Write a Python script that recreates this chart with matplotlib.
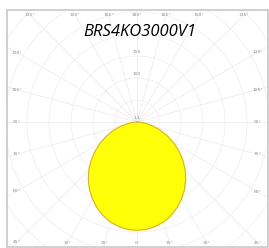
import numpy as np
import matplotlib
matplotlib.use("Agg")
import matplotlib.pyplot as plt
from matplotlib.patches import Rectangle, Circle

# Luminous intensity (cd/klm) vs. gamma angle (deg)
gamma_deg = [0, 5, 10, 15, 20, 25, 30, 35, 40, 45, 50, 55, 60, 65, 70, 75, 80, 85, 90]
intensity = [246, 245, 241, 235, 226, 215, 202, 188, 172, 155, 136, 117, 97, 77, 58, 40, 23, 9, 0]
ring_values = [50, 100, 150, 200, 250, 300, 350, 400, 450, 500, 550, 600, 650]
ring_labels = ["", "100", "150", "", "", "", "", "", "", "", "", "", ""]
title = "BRS4KO3000V1"

fig = plt.figure(figsize=(2.69, 2.48), dpi=100)
ax = fig.add_axes([0, 0, 1, 1])
s = 0.44  # px per cd
ox, oy = 137, 122
ax.set_xlim(-ox / s, (269 - ox) / s)
ax.set_ylim(-(248 - oy) / s, oy / s)
ax.axis("off")

# frame
x0, x1 = (7 - ox) / s, (268 - ox) / s
y0, y1 = -(247 - oy) / s, (oy - 10) / s
frame = Rectangle((x0, y0), x1 - x0, y1 - y0, fill=False, ec="#c4c4c4", lw=1.1, zorder=1)
ax.add_patch(frame)

# rings
for r in ring_values:
    c = Circle((0, 0), r, fill=False, ec="#f0f0f0", lw=0.6, zorder=0.5)
    ax.add_patch(c)
    c.set_clip_path(frame)

# radial lines every 15 deg
L = 1000
for a in range(0, 360, 15):
    t = np.radians(a)
    ln, = ax.plot([0, L * np.sin(t)], [0, -L * np.cos(t)], color="#ededed", lw=0.6, zorder=0.5)
    ln.set_clip_path(frame)

# angle labels where radial lines meet the frame
ix0, ix1 = x0 + 10 / s, x1 - 10 / s
iy0, iy1 = y0 + 4 / s, y1 - 5 / s
for a in range(-180, 180, 15):
    t = np.radians(a)
    dx, dy = np.sin(t), -np.cos(t)
    ts = []
    if dx > 1e-9: ts.append(ix1 / dx)
    if dx < -1e-9: ts.append(ix0 / dx)
    if dy > 1e-9: ts.append(iy1 / dy)
    if dy < -1e-9: ts.append(iy0 / dy)
    k = min(ts)
    ax.text(k * dx, k * dy, f"{abs(a)}°", fontsize=3.2, color="#8c8c8c",
            ha="center", va="center", zorder=3)

# intensity labels along vertical axis
for r, lab in zip(ring_values, ring_labels):
    if lab:
        ax.text(0, r + 8, lab, fontsize=3.2, color="#8c8c8c", ha="center", va="center", zorder=3)

# photometric curve
g = np.radians(np.array(gamma_deg, dtype=float))
I = np.array(intensity, dtype=float)
xr = I * np.sin(g)
yr = -I * np.cos(g)
xs = np.concatenate([-xr[::-1], xr[1:]])
ys = np.concatenate([yr[::-1], yr[1:]])
ax.fill(xs, ys, color="#ffff08", zorder=2)
ax.plot(xs, ys, color="#d8b040", lw=0.8, zorder=2.1)
ax.text(0, 4, "1.1", fontsize=3.2, color="#8c8c8c", ha="center", va="bottom", zorder=3)

ax.text(3 / s, 90 / s, title, fontsize=12, style="italic", family="Open Sans",
        color="#000000", ha="center", va="center", zorder=4)

fig.savefig("out.png", dpi=100)
